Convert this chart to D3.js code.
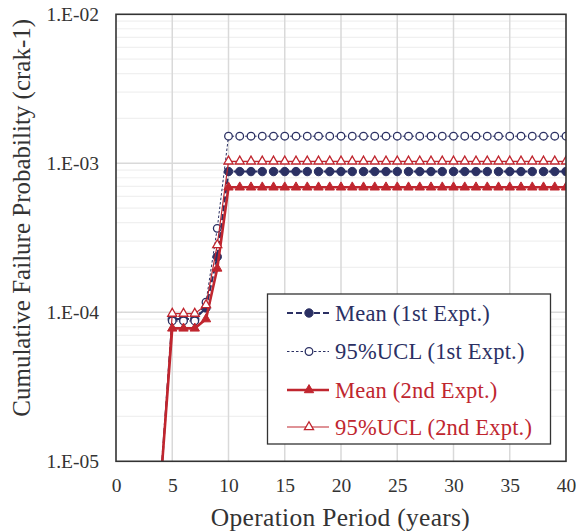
<!DOCTYPE html>
<html><head><meta charset="utf-8">
<script src="https://cdn.jsdelivr.net/npm/d3@7/dist/d3.min.js"></script>
<style>body{margin:0;background:#fff}svg{display:block}text{font-family:"Liberation Serif","Times New Roman",serif}</style>
</head><body>
<script>
// Data
const years = [4,5,6,7,8,9,10,11,12,13,14,15,16,17,18,19,20,21,22,23,24,25,26,27,28,29,30,31,32,33,34,35,36,37,38,39,40];
const mean1 = [7.6e-6, 9.0e-5, 9.0e-5, 9.0e-5, 1.07e-4, 2.36e-4].concat(Array(31).fill(8.8e-4));
const ucl1  = [7.6e-6, 8.75e-5, 8.75e-5, 8.75e-5, 1.17e-4, 3.66e-4].concat(Array(31).fill(1.52e-3));
const mean2 = [7.6e-6, 7.8e-5, 7.8e-5, 7.8e-5, 9.0e-5, 1.97e-4].concat(Array(31).fill(6.9e-4));
const ucl2  = [7.6e-6, 9.8e-5, 9.8e-5, 9.8e-5, 1.12e-4, 2.83e-4].concat(Array(31).fill(1.03e-3));
const seriesNames = ["Mean (1st Expt.)","95%UCL (1st Expt.)","Mean (2nd Expt.)","95%UCL (2nd Expt.)"];
const xTicks = [0,5,10,15,20,25,30,35,40];
const yTicks = [1e-5,1e-4,1e-3,1e-2];
const yTickLabels = ["1.E-05","1.E-04","1.E-03","1.E-02"];

const W=576,H=531;
const m={left:116,right:10,top:14,bottom:70};
const svg=d3.select("body").append("svg").attr("width",W).attr("height",H);
svg.append("rect").attr("width",W).attr("height",H).attr("fill","#fff");
const x=d3.scaleLinear().domain([0,40]).range([m.left,W-m.right]);
const y=d3.scaleLog().domain([1e-5,1e-2]).range([H-m.bottom+0.3,m.top+0.3]);
const navy="#2b3063", red="#c0262f", axisText="#333333";

// gridlines
const minor=[];
for(let e=-5;e<-2;e++) for(let k=2;k<10;k++) minor.push(k*Math.pow(10,e));
svg.append("g").selectAll("line").data(minor).join("line")
 .attr("x1",x(0)).attr("x2",x(40)).attr("y1",d=>y(d)).attr("y2",d=>y(d))
 .attr("stroke","#f0f0f0").attr("stroke-width",1.2);
svg.append("g").selectAll("line").data(yTicks.slice(1,3)).join("line")
 .attr("x1",x(0)).attr("x2",x(40)).attr("y1",d=>y(d)).attr("y2",d=>y(d))
 .attr("stroke","#d9d9d9").attr("stroke-width",1.5);
svg.append("g").selectAll("line").data(xTicks.slice(1,-1)).join("line")
 .attr("x1",d=>x(d)).attr("x2",d=>x(d)).attr("y1",y(1e-5)).attr("y2",y(1e-2))
 .attr("stroke","#d9d9d9").attr("stroke-width",1.5);

// axes (labels only)
const xAxis=svg.append("g").attr("transform",`translate(0,${y(1e-5)})`)
 .call(d3.axisBottom(x).tickValues(xTicks).tickSize(0).tickPadding(17));
xAxis.select(".domain").remove();
xAxis.selectAll("text").attr("font-size",19.5).attr("fill",axisText).attr("font-family","Liberation Serif");
const yAxis=svg.append("g").attr("transform",`translate(${x(0)},0)`)
 .call(d3.axisLeft(y).tickValues(yTicks).tickFormat((d,i)=>yTickLabels[i]).tickSize(0).tickPadding(17));
yAxis.select(".domain").remove();
yAxis.selectAll("text").attr("font-size",19.5).attr("fill",axisText).attr("font-family","Liberation Serif");

// clip
svg.append("clipPath").attr("id","clip").append("rect")
 .attr("x",x(0)).attr("y",y(1e-2)).attr("width",x(40)-x(0)).attr("height",y(1e-5)-y(1e-2));
const plot=svg.append("g").attr("clip-path","url(#clip)");

const series=[
 {vals:mean1,color:navy,w:2,dash:"6,3",marker:"circle",fill:navy,r:4.2},
 {vals:ucl1,color:navy,w:1,dash:"2.5,2",marker:"circle",fill:"#fff",r:3.8},
 {vals:mean2,color:red,w:2.6,dash:null,marker:"tri",fill:red,r:4},
 {vals:ucl2,color:red,w:1.2,dash:null,marker:"tri",fill:"#fff",r:4},
];
const line=d3.line().x((d,i)=>x(years[i])).y(d=>y(d));
const tri=d3.symbol().type(d3.symbolTriangle);
function drawMarker(g,s,cx,cy){
 if(s.marker==="circle"){
  g.append("circle").attr("cx",cx).attr("cy",cy).attr("r",s.r)
   .attr("fill",s.fill).attr("stroke",s.color).attr("stroke-width",s.fill==="#fff"?1.3:1);
 } else {
  g.append("path").attr("d",tri.size(s.fill==="#fff"?36:38)()).attr("transform",`translate(${cx},${cy})`)
   .attr("fill",s.fill).attr("stroke",s.color).attr("stroke-width",s.fill==="#fff"?1.3:1);
 }
}
series.forEach(s=>{
 const g=plot.append("g");
 g.append("path").datum(s.vals).attr("d",line).attr("fill","none")
  .attr("stroke",s.color).attr("stroke-width",s.w).attr("stroke-dasharray",s.dash);
 s.vals.forEach((v,i)=>drawMarker(g,s,x(years[i]),y(v)));
});

// frame
svg.append("rect").attr("x",x(0)).attr("y",y(1e-2)).attr("width",x(40)-x(0)).attr("height",y(1e-5)-y(1e-2))
 .attr("fill","none").attr("stroke","#333").attr("stroke-width",1.6);

// legend
const lg=svg.append("g");
lg.append("rect").attr("x",267.5).attr("y",294).attr("width",283).attr("height",150)
 .attr("fill","#fff").attr("stroke","#333").attr("stroke-width",1.3);
const ly=[313,351.5,390,427];
series.forEach((s,i)=>{
 const g=lg.append("g");
 g.append("line").attr("x1",287).attr("x2",329).attr("y1",ly[i]).attr("y2",ly[i])
  .attr("stroke",s.color).attr("stroke-width",s.w).attr("stroke-dasharray",s.dash);
 drawMarker(g,s,309,ly[i]);
 g.append("text").attr("x",335).attr("y",ly[i]).attr("dy","0.35em").attr("font-size",22.5)
  .attr("letter-spacing",0.2).attr("fill",s.color).text(seriesNames[i]);
});

// titles
svg.append("text").attr("x",340.5).attr("y",526).attr("text-anchor","middle")
 .attr("font-size",25.5).attr("letter-spacing",0.3).attr("fill",axisText).text("Operation Period (years)");
svg.append("text").attr("transform",`translate(30,${(y(1e-5)+y(1e-2))/2-20}) rotate(-90)`)
 .attr("text-anchor","middle").attr("font-size",25).attr("fill",axisText)
 .text("Cumulative Failure Probability (crak-1)");
</script>
</body></html>
